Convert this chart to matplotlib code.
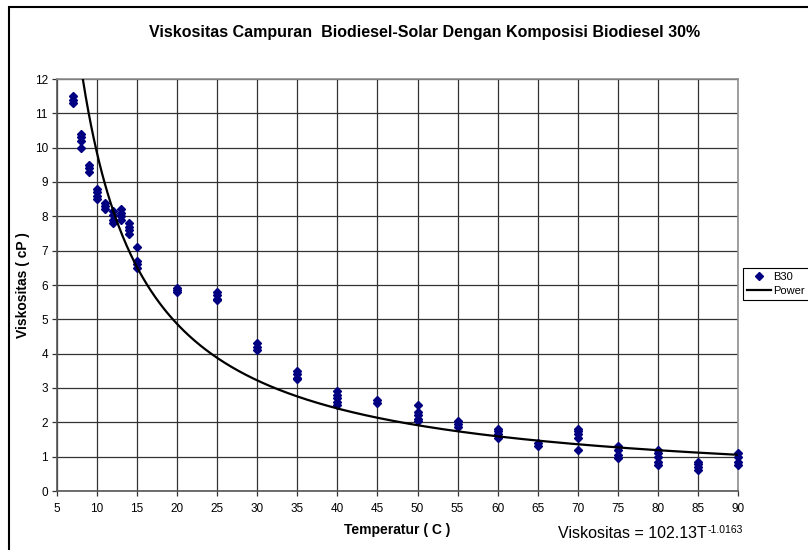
import numpy as np
import matplotlib
matplotlib.use("Agg")
import matplotlib.pyplot as plt
from matplotlib.patches import Rectangle

plt.rcParams['font.family'] = ['Liberation Sans', 'DejaVu Sans']

# ---- data ----
title = "Viskositas Campuran  Biodiesel-Solar Dengan Komposisi Biodiesel 30%"
xlabel = "Temperatur ( C )"
ylabel = "Viskositas ( cP )"
series_name = "B30"
trend_name = "Power"
temperatures = [7, 8, 9, 10, 11, 12, 13, 14, 15, 20, 25, 30, 35, 40, 45, 50,
                55, 60, 65, 70, 75, 80, 85, 90]
viscosities = [
    [11.3, 11.4, 11.5],
    [10.0, 10.2, 10.3, 10.4],
    [9.3, 9.4, 9.5],
    [8.5, 8.6, 8.7, 8.8],
    [8.2, 8.3, 8.4],
    [7.8, 7.9, 8.05, 8.15],
    [7.9, 8.0, 8.1, 8.2],
    [7.5, 7.6, 7.7, 7.8],
    [6.5, 6.6, 6.7, 7.1],
    [5.8, 5.85, 5.9],
    [5.55, 5.6, 5.7, 5.8],
    [4.1, 4.2, 4.3],
    [3.25, 3.3, 3.4, 3.5],
    [2.5, 2.6, 2.7, 2.8, 2.9],
    [2.55, 2.65],
    [2.05, 2.1, 2.2, 2.3, 2.5],
    [1.85, 1.95, 2.05],
    [1.55, 1.65, 1.75, 1.8],
    [1.3, 1.4],
    [1.2, 1.55, 1.65, 1.75, 1.8],
    [0.95, 1.05, 1.2, 1.3],
    [0.75, 0.85, 1.0, 1.1, 1.2],
    [0.6, 0.7, 0.8, 0.85],
    [0.75, 0.85, 1.0, 1.1],
]
fit_a = 102.13
fit_b = -1.0163
x_ticks = list(range(5, 91, 5))
y_ticks = list(range(0, 13, 1))

# ---- figure ----
W, H = 808, 550
fig = plt.figure(figsize=(W / 100, H / 100), dpi=100)
L, R, T, B = 57, 738, 79, 491
ax = fig.add_axes([L / W, 1 - B / H, (R - L) / W, (B - T) / H])

xs = [t for t, vs in zip(temperatures, viscosities) for _ in vs]
ys = [v for vs in viscosities for v in vs]
ax.plot(xs, ys, linestyle='none', marker='D', markersize=4.0,
        color='#000080', label=series_name, zorder=3, clip_on=False)

tt = np.linspace(5, 90, 500)
ax.plot(tt, fit_a * tt ** fit_b, color='black', lw=1.6, label=trend_name, zorder=4)

ax.set_xlim(5, 90)
ax.set_ylim(0, 12)
ax.set_xticks(x_ticks)
ax.set_yticks(y_ticks)
ax.grid(True, color='#333333', lw=0.9)
ax.set_axisbelow(True)
for s in ['top', 'right']:
    ax.spines[s].set_color('#909090')
    ax.spines[s].set_linewidth(1.2)
for s in ['left', 'bottom']:
    ax.spines[s].set_color('#555555')
    ax.spines[s].set_linewidth(1.2)
ax.tick_params(direction='out', length=3.6, width=0.9, color='#333333',
               labelsize=8.5, pad=3)
ax.tick_params(axis='x', pad=5)

ax.set_xlabel(xlabel, fontsize=10, fontweight='bold', va='center')
ax.xaxis.set_label_coords(0.5, -(530 - B) / (B - T))
ax.set_ylabel(ylabel, fontsize=10, fontweight='bold', va='center')
ax.yaxis.set_label_coords(-(L - 23) / (R - L), 0.5)

fig.text(425 / W, 1 - 33 / H, title, fontsize=11.5, fontweight='bold',
         ha='center', va='center')

eq_main = fig.text(558 / W, 1 - 538 / H, "Viskositas = %.2fT" % fit_a,
                   fontsize=11.5, ha='left', va='baseline')
ax.annotate("%.4f" % fit_b, xy=(1.0, 1.0), xycoords=eq_main,
            xytext=(0.5, 1), textcoords='offset points',
            fontsize=7.5, ha='left', va='top', annotation_clip=False)

leg = ax.legend(loc='center left', bbox_to_anchor=(743 / W, 1 - 284 / H),
                bbox_transform=fig.transFigure, fontsize=8, frameon=True,
                fancybox=False, edgecolor='black', borderpad=0.35,
                labelspacing=0.35, handlelength=2.2, handletextpad=0.15,
                borderaxespad=0, framealpha=1)
leg.get_frame().set_linewidth(0.8)

# outer chart border (extends past right/bottom edges)
fig.patches.append(Rectangle((9 / W, -0.05), 1.1, 1 - 7 / H + 0.05,
                             transform=fig.transFigure, fill=False,
                             edgecolor='black', lw=1.5))

fig.savefig("out.png", dpi=100)
